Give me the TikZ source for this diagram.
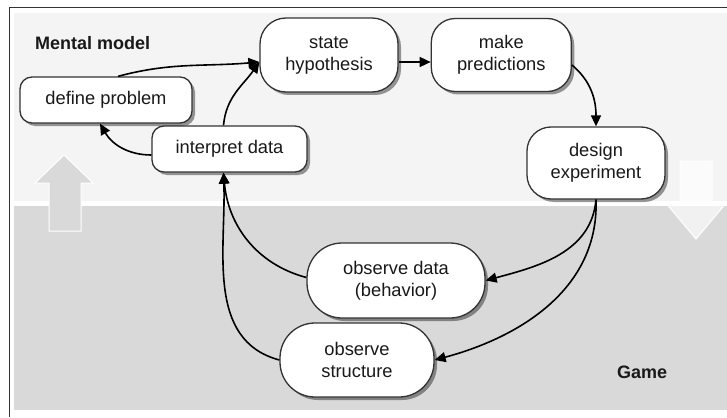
\documentclass[tikz,border=0pt]{standalone}
\usepackage{fontspec}
\setmainfont{Liberation Sans}
\usepackage{tikz}
\usetikzlibrary{positioning, arrows.meta, shadows}
\definecolor{mentalbg}{HTML}{F4F4F4}
\definecolor{gamebg}{HTML}{D9D9D9}
\tikzset{
	stage/.append style={
		draw=black!80,
		line width=1.3pt,
		fill=white,
		align=center,
		text=black!90,
		font=\fontsize{18.3}{22}\selectfont,
		drop shadow={shadow xshift=3pt, shadow yshift=-3pt, opacity=0.4, fill=black},
	},
	flow/.append style={
		line width=1.6pt,
		-{Triangle[length=11pt,width=10pt]},
	},
	region/.append style={
		font=\bfseries\fontsize{18}{22}\selectfont,
		text=black!90,
		inner sep=0pt,
		anchor=west,
	},
	bigarrow/.append style={
		draw=white,
		line width=1pt,
	}
}

\begin{document}
\begin{tikzpicture}[x=1pt, y=-1pt]
\useasboundingbox (0,0) rectangle (727,417);
% the two worlds
\fill[mentalbg] (14,13) rectangle (727,201);
\fill[gamebg] (14,206) rectangle (727,410);
\draw[black!80, line width=1pt] (9,417) -- (9,7.5) -- (727,7.5);
\filldraw[bigarrow, fill=gamebg] (64,155) -- (93,183) -- (81,183) -- (81,231) -- (49,231) -- (49,183) -- (35,183) -- cycle;
\filldraw[bigarrow, fill=white, fill opacity=0.65] (680,161) -- (712,161) -- (712,202) -- (727,202) -- (696,239) -- (665,202) -- (680,202) -- cycle;

\node[region] (mental) at (35,43) {Mental model};
\node[region] (game) at (617,372) {Game};

\node[stage, minimum width=138pt, minimum height=74pt, rounded corners=26pt] (state) at (329,55) {state\\hypothesis};
\node[stage, minimum width=140pt, minimum height=73pt, rounded corners=24pt, right=32pt of state] (make) {make\\predictions};
\node[stage, minimum width=138pt, minimum height=72pt, rounded corners=24pt] (design) at (596,163) {design\\experiment};
\node[stage, minimum width=172pt, minimum height=46pt, rounded corners=12pt] (define) at (106,100) {define problem};
\node[stage, minimum width=155pt, minimum height=46pt, rounded corners=12pt] (interpret) at (229.5,149) {interpret data};
\node[stage, minimum width=178pt, minimum height=75pt, rounded corners=35pt] (obsdata) at (396,280.5) {observe data\\(behavior)};
\node[stage, minimum width=154pt, minimum height=74pt, rounded corners=35pt] (obsstruct) at (357,360) {observe\\structure};

\draw[flow] ([xshift=12pt]define.north) to[out=15, in=185] ([yshift=-7pt]state.west);
\draw[flow] ([xshift=-6pt]interpret.north) to[out=85, in=235] ([yshift=-7pt]state.west);
\draw[flow] ([yshift=-6pt]interpret.west) to[out=180, in=-60] ([xshift=-6pt]define.south);
\draw[flow] ([yshift=-7pt]state.east) -- ([yshift=-7pt]state.east -| make.west);
\draw[flow] ([yshift=-10pt]make.east) to[out=-40, in=90] (design.north);
\draw[flow] (design.south) to[out=-95, in=15] (obsdata.east);
\draw[flow] (design.south) to[out=-88, in=15] (obsstruct.east);
\draw[flow] ([yshift=3pt]obsdata.west) to[out=165, in=-85] ([xshift=-6pt]interpret.south);
\draw[flow] (obsstruct.west) to[out=165, in=-88] ([xshift=-6pt]interpret.south);
\end{tikzpicture}
\end{document}
